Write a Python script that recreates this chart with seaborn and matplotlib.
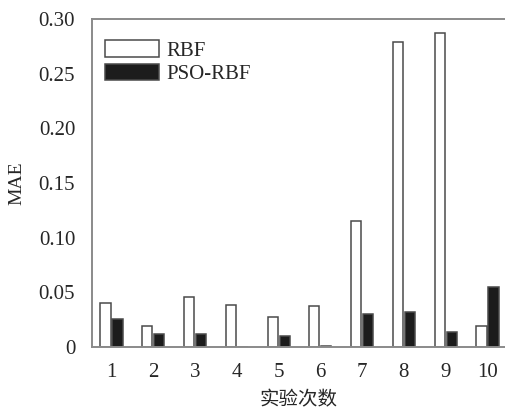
import pandas as pd
import seaborn as sns
import matplotlib.pyplot as plt

# data
runs = ['1', '2', '3', '4', '5', '6', '7', '8', '9', '10']
mae_rbf = [0.040, 0.019, 0.046, 0.038, 0.027, 0.037, 0.115, 0.279, 0.287, 0.019]
mae_pso = [0.025, 0.012, 0.012, 0.0, 0.010, 0.001, 0.030, 0.032, 0.014, 0.055]
yticks = [0, 0.05, 0.10, 0.15, 0.20, 0.25, 0.30]
ytick_labels = ['0', '0.05', '0.10', '0.15', '0.20', '0.25', '0.30']

df = pd.DataFrame({
    'run': runs * 2,
    'MAE': mae_rbf + mae_pso,
    'model': ['RBF'] * len(runs) + ['PSO-RBF'] * len(runs),
})

sns.set_style('white')
plt.rcParams['font.family'] = ['Liberation Serif', 'Noto Sans CJK SC', 'DejaVu Sans']

fig = plt.figure(figsize=(5.05, 4.08), dpi=100)
ax = fig.add_axes([0.182, 0.150, 0.818, 0.803])

sns.barplot(
    data=df, x='run', y='MAE', hue='model', ax=ax,
    palette={'RBF': 'white', 'PSO-RBF': '#1c1c1c'},
    edgecolor='#4a4a4a', linewidth=1.1,
    width=0.575, gap=0.15, errorbar=None,
)

ax.set_xlim(-0.47, 9.42)
ax.set_ylim(0, 0.30)
ax.set_yticks(yticks)
ax.set_yticklabels(ytick_labels)

for side in ['left', 'bottom', 'top']:
    ax.spines[side].set_color('#8a8a8a')
    ax.spines[side].set_linewidth(1.4)
ax.spines['right'].set_visible(False)

ax.tick_params(axis='y', direction='out', length=3, width=1, color='#8a8a8a',
               labelsize=15, pad=9)
ax.tick_params(axis='x', length=0, labelsize=15, pad=12)

ax.set_xlabel('实验次数', fontsize=14, labelpad=6)
ax.set_ylabel('MAE', fontsize=14)
ax.yaxis.set_label_coords(-0.162, 0.5)

ax.legend(
    loc='upper left', bbox_to_anchor=(0.031, 0.936), frameon=False,
    fontsize=15, handlelength=2.6, handleheight=0.85, labelspacing=0.15,
    handletextpad=0.35, borderpad=0, borderaxespad=0,
)

plt.savefig('out.png', dpi=100)
plt.close()
